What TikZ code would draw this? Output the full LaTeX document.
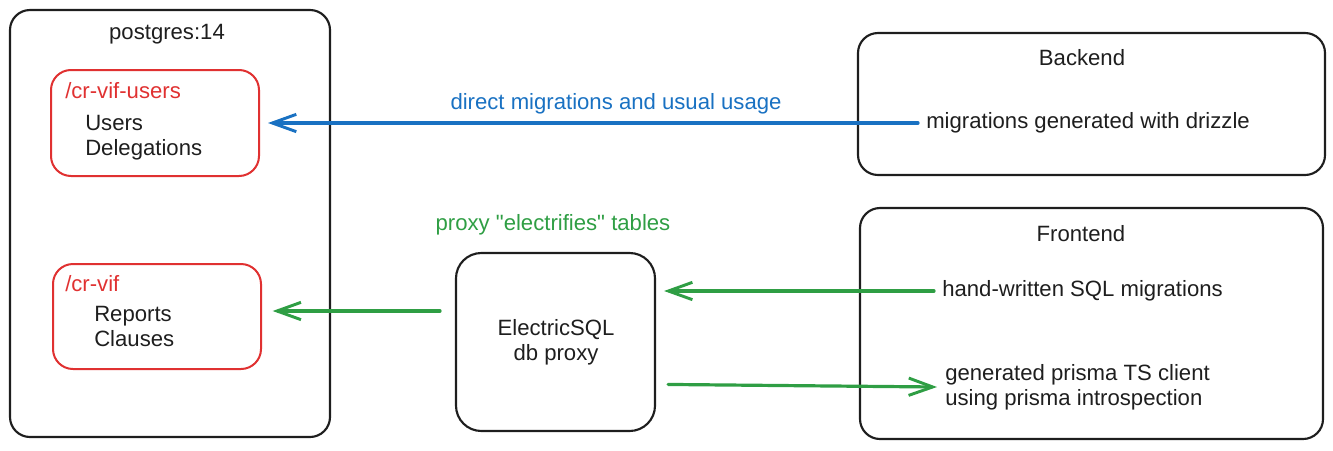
\documentclass[tikz,border=0pt]{standalone}
\usepackage{fontspec}
\setmainfont{Liberation Sans}
\usetikzlibrary{arrows.meta}
\definecolor{ink}{HTML}{1E1E1E}
\definecolor{exred}{HTML}{E03131}
\definecolor{exblue}{HTML}{1971C2}
\definecolor{exgreen}{HTML}{2F9E44}
\begin{document}
\begin{tikzpicture}[x=0.75pt,y=-0.75pt,
  box/.style={draw=ink,line width=1.6pt,rounded corners=15pt,inner sep=0pt},
  redbox/.style={draw=exred,line width=1.5pt,rounded corners=15pt,inner sep=0pt},
  txt/.style={text=ink,font=\fontsize{16.6}{18.75}\selectfont,inner xsep=6pt,inner ysep=0pt,align=left},
  ctxt/.style={txt,align=center},
  conn/.style={line width=2.4pt,line cap=round,-{Straight Barb[length=18pt,width=13pt,line width=2.2pt]}},
]
\useasboundingbox (0,0) rectangle (1333,450);
% boxes
\node[box,minimum width=240pt,minimum height=320.25pt] (pg) at (170,223.5) {};
\node[redbox,minimum width=156pt,minimum height=79.5pt] (users) at (155,123) {};
\node[redbox,minimum width=156pt,minimum height=78.75pt] (crvif) at (157,316.5) {};
\node[box,minimum width=350.25pt,minimum height=106.5pt] (backend) at (1091.5,104) {};
\node[box,minimum width=347.25pt,minimum height=173.25pt] (frontend) at (1091.5,323.5) {};
\node[box,minimum width=149.25pt,minimum height=133.5pt,rounded corners=19pt] (electric) at (555.5,342) {};
% texts
\node[ctxt] (pgl) at (167,34) {postgres:14};
\node[txt,anchor=west,text=exred] (usersl) at (57,91) {/cr-vif-users};
\node[txt,anchor=west] (userst) at (77,137.5) {Users\\Delegations};
\node[txt,anchor=west,text=exred] (crvifl) at (57,284) {/cr-vif};
\node[txt,anchor=west] (crvift) at (86,326) {Reports\\Clauses};
\node[ctxt] (backl) at (1082,58) {Backend};
\node[txt,anchor=west] (drizzle) at (918,123) {migrations generated with drizzle};
\node[ctxt] (frontl) at (1081,234) {Frontend};
\node[txt,anchor=west] (hand) at (934,291) {hand-written SQL migrations};
\node[txt,anchor=west] (prisma) at (937,387) {generated prisma TS client\\using prisma introspection};
\node[ctxt] (electricl) at (556,342) {ElectricSQL\\db proxy};
\node[ctxt,text=exblue] (bluel) at (616,104) {direct migrations and usual usage};
\node[ctxt,text=exgreen] (greenl) at (553,225) {proxy \textquotedbl electrifies\textquotedbl\ tables};
% connectors
\coordinate (g1) at (440,311);
\draw[conn,exblue,shorten >=6pt] (drizzle.west) -- (drizzle.west -| users.east);
\draw[conn,exgreen,shorten >=8pt] (g1) -- (g1 -| crvif.east);
\draw[conn,exgreen,shorten >=6pt] (hand.west) -- (hand.west -| electric.east);
\draw[conn,exgreen,shorten <=9pt] ([yshift=2pt]electric.east |- prisma.west) -- (prisma.west);
\end{tikzpicture}
\end{document}
